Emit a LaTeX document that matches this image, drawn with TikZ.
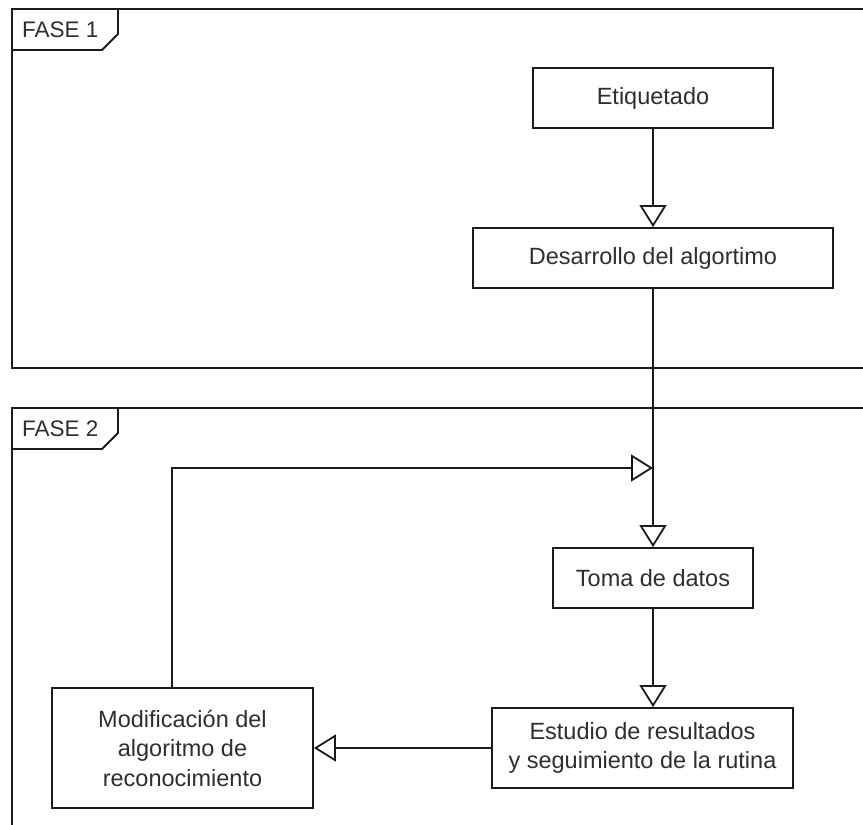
\documentclass[tikz,border=0pt]{standalone}
\usepackage{fontspec}
\setmainfont{Liberation Sans}
\usetikzlibrary{arrows.meta}
\definecolor{inkline}{HTML}{1A1A1A}
\definecolor{inktext}{HTML}{2E2E2E}
\tikzset{
  procbox/.style={draw=inkline, line width=1.8pt, fill=white, inner sep=0pt,
    align=center, text=inktext, font=\fontsize{23.5}{29.5}\selectfont},
  link/.style={draw=inkline, line width=1.8pt,
    -{Triangle[length=22pt,width=27pt,fill=white]}},
  frameline/.style={draw=inkline, line width=1.8pt},
  framelabel/.style={anchor=west, inner sep=0pt, text=inktext,
    font=\fontsize{22.5}{26}\selectfont}
}
\begin{document}
\begin{tikzpicture}[x=1pt,y=-1pt]
  \useasboundingbox (0,0) rectangle (863,825);
  \clip (0,0) rectangle (863,825);

  % phase frames, running off the right and bottom edges
  \draw[frameline] (12,9) rectangle (900,368);
  \draw[frameline] (12,50) -- (102,50) -- (118,34) -- (118,9);
  \node[framelabel] (fase1) at (22,30) {FASE 1};

  \draw[frameline] (12,408) rectangle (900,880);
  \draw[frameline] (12,449) -- (102,449) -- (118,433) -- (118,408);
  \node[framelabel] (fase2) at (22,429) {FASE 2};

  % process steps
  \node[procbox, minimum width=240pt, minimum height=60pt] (etiq) at (653,98) {Etiquetado};
  \node[procbox, minimum width=360pt, minimum height=60pt] (desa) at (653,258) {Desarrollo del algortimo};
  \node[procbox, minimum width=200pt, minimum height=60pt] (toma) at (653,578) {Toma de datos};
  \node[procbox, minimum width=301pt, minimum height=80pt] (estu) at (642.5,748)
    {Estudio de resultados\\y seguimiento de la rutina};
  \node[procbox, minimum width=261pt, minimum height=120pt] (modi) at (182.5,748)
    {Modificación del\\algoritmo de\\reconocimiento};

  % connectors
  \draw[link] (etiq.south) -- (desa.north);
  \draw[link] (desa.south) -- (toma.north);
  \draw[link] (toma.south) -- (toma.south |- estu.north);
  \draw[link] (estu.west) -- (modi.east);

  % feedback loop back into the main flow
  \coordinate (bend) at (172,468);
  \coordinate (join) at (653,468);
  \draw[link] (bend |- modi.north) -- (bend) -- (join);
\end{tikzpicture}
\end{document}
